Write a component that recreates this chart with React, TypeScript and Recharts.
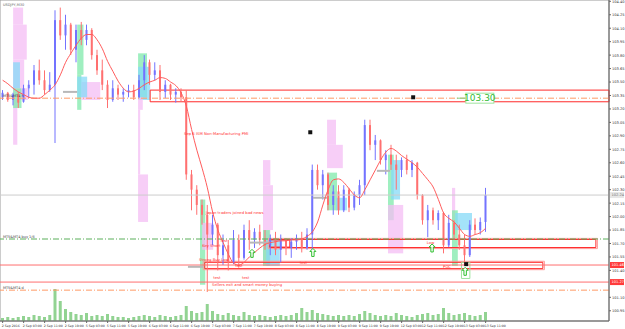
import React from 'react';
import { ComposedChart, Bar, Line, XAxis, YAxis, ReferenceLine, ReferenceArea, ReferenceDot } from 'recharts';

// USDJPY, 2-hour candles: [open, high, low, close]
const ohlcSep2: number[][] = [
  [103.33, 103.41, 103.30, 103.38], [103.38, 103.39, 103.28, 103.30], [103.30, 103.38, 103.24, 103.36],
  [103.36, 103.39, 103.21, 103.27], [103.28, 103.47, 103.27, 103.43], [103.43, 103.52, 103.32, 103.47],
  [103.47, 103.69, 103.36, 103.63], [103.63, 103.75, 103.47, 103.52], [103.52, 103.63, 103.36, 103.41],
  [103.41, 103.61, 103.39, 103.47], [103.47, 104.30, 102.82, 104.19], [104.19, 104.33, 103.97, 104.02],
  [104.02, 104.25, 103.86, 104.14], [104.14, 104.16, 103.80, 103.86], [103.86, 104.14, 103.72, 104.08],
];
const ohlcSep5to6: number[][] = [
  [104.08, 104.17, 103.91, 103.97], [103.97, 104.14, 103.91, 104.08], [104.08, 104.10, 103.75, 103.80],
  [103.80, 103.86, 103.58, 103.63], [103.63, 103.75, 103.41, 103.47], [103.47, 103.52, 103.21, 103.30],
  [103.30, 103.52, 103.28, 103.43], [103.43, 103.47, 103.30, 103.36], [103.36, 103.43, 103.28, 103.39],
  [103.39, 103.47, 103.33, 103.41], [103.41, 103.47, 103.30, 103.33], [103.33, 103.58, 103.32, 103.52],
  [103.52, 103.80, 103.41, 103.72], [103.72, 103.75, 103.47, 103.58], [103.58, 103.72, 103.52, 103.63],
  [103.63, 103.69, 103.30, 103.39], [103.39, 103.52, 103.32, 103.47], [103.47, 103.48, 103.30, 103.36],
  [103.36, 103.43, 103.27, 103.39], [103.39, 103.43, 103.28, 103.33], [103.33, 103.41, 102.41, 102.47],
  [102.47, 102.52, 102.07, 102.30], [102.30, 102.35, 102.02, 102.13], [102.13, 102.19, 101.91, 102.02],
];
const ohlcSep7to8: number[][] = [
  [102.02, 102.13, 101.16, 101.80], [101.80, 102.02, 101.68, 101.91], [101.91, 101.93, 101.40, 101.57],
  [101.57, 101.80, 101.46, 101.68], [101.68, 101.74, 101.40, 101.49], [101.49, 101.85, 101.47, 101.74],
  [101.74, 101.80, 101.43, 101.54], [101.54, 101.91, 101.52, 101.85], [101.85, 101.96, 101.63, 101.74],
  [101.74, 101.87, 101.65, 101.83], [101.83, 101.91, 101.68, 101.74], [101.74, 101.85, 101.63, 101.68],
  [101.68, 101.80, 101.57, 101.76], [101.76, 101.83, 101.57, 101.63], [101.63, 101.80, 101.49, 101.74],
  [101.74, 101.76, 101.57, 101.65], [101.65, 101.76, 101.54, 101.72], [101.72, 101.80, 101.63, 101.76],
  [101.76, 101.83, 101.60, 101.65], [101.65, 101.87, 101.63, 101.80], [101.80, 102.58, 101.60, 102.52],
  [102.52, 102.58, 102.30, 102.35], [102.35, 102.52, 102.19, 102.47], [102.47, 102.49, 102.07, 102.13],
];
const ohlcSep9to13: number[][] = [
  [102.13, 102.35, 102.02, 102.28], [102.28, 102.35, 102.02, 102.07], [102.07, 102.35, 102.05, 102.30],
  [102.30, 102.32, 102.05, 102.10], [102.10, 102.28, 102.07, 102.24], [102.24, 102.41, 102.13, 102.35],
  [102.35, 103.08, 102.24, 103.02], [103.02, 103.08, 102.74, 102.80], [102.80, 102.91, 102.63, 102.85],
  [102.85, 102.86, 102.58, 102.63], [102.63, 102.74, 102.47, 102.69], [102.69, 102.80, 102.52, 102.58],
  [102.58, 102.69, 102.30, 102.52], [102.52, 102.66, 102.44, 102.63], [102.63, 102.69, 102.47, 102.52],
  [102.52, 102.63, 102.44, 102.60], [102.60, 102.61, 102.19, 102.24], [102.24, 102.25, 101.91, 101.96],
  [101.96, 102.13, 101.77, 102.07], [102.07, 102.10, 101.91, 101.96], [101.96, 102.07, 101.85, 102.04],
  [102.04, 102.05, 101.59, 101.68], [101.68, 102.02, 101.66, 101.93], [101.93, 101.96, 101.74, 101.80],
  [101.80, 101.91, 101.63, 101.68], [101.68, 101.80, 101.46, 101.57], [101.57, 101.96, 101.55, 101.91],
  [101.91, 101.98, 101.80, 101.85], [101.85, 101.99, 101.80, 101.94], [101.94, 102.32, 101.83, 102.24],
];

// red moving average
const maValues = [
  103.52, 103.48, 103.43, 103.39, 103.36, 103.33, 103.32, 103.32, 103.36, 103.41, 103.47, 103.58, 103.72, 103.82, 103.91,
  103.99, 104.03, 104.03, 103.97, 103.87, 103.73, 103.62, 103.51, 103.43, 103.39, 103.40, 103.43, 103.47, 103.50, 103.52,
  103.55, 103.54, 103.50, 103.46, 103.38, 103.23, 102.97, 102.74, 102.54,
  102.32, 102.05, 101.85, 101.71, 101.58, 101.48, 101.46, 101.49, 101.55, 101.60, 101.65, 101.69, 101.71, 101.72, 101.73,
  101.73, 101.74, 101.74, 101.75, 101.78, 101.83, 101.94, 102.13, 102.30,
  102.41, 102.42, 102.38, 102.31, 102.24, 102.21, 102.30, 102.41, 102.52, 102.63, 102.72, 102.76, 102.73, 102.68, 102.64,
  102.60, 102.55, 102.48, 102.41, 102.33, 102.19, 102.04, 101.98, 101.94, 101.87, 101.80, 101.78, 101.80, 101.82, 101.87,
];

// tick volume
const tickVolume = [
  300, 400, 300, 400, 500, 400, 600, 500, 400, 600, 3200, 2000, 1200, 900, 700,
  600, 800, 500, 600, 500, 700, 500, 400, 400, 300, 400, 500, 600, 500, 400, 600, 500, 400, 500, 600, 1500, 1000, 800, 900,
  1700, 1000, 700, 600, 800, 600, 500, 900, 600, 500, 600, 500, 400, 500, 600, 500, 600, 800, 1300, 900, 1100, 800, 700, 600,
  500, 600, 500, 600, 500, 700, 1000, 800, 600, 500, 600, 500, 800, 600, 500, 400, 600, 700, 800, 600, 700, 1300, 800, 600,
  700, 800, 600, 500, 600, 900,
];

const timeLabels = [
  '2 Sep 2016', '2 Sep 03:00', '2 Sep 11:00', '2 Sep 19:00', '5 Sep 03:00', '5 Sep 11:00', '5 Sep 19:00', '6 Sep 03:00',
  '6 Sep 11:00', '6 Sep 19:00', '7 Sep 03:00', '7 Sep 11:00', '7 Sep 19:00', '8 Sep 03:00', '8 Sep 11:00', '8 Sep 19:00',
  '9 Sep 03:00', '9 Sep 11:00', '9 Sep 19:00', '12 Sep 03:00', '12 Sep 11:00', '12 Sep 19:00', '13 Sep 03:00', '13 Sep 11:00',
];
const timeTicks = timeLabels.map((_, k) => k * 4);

// 101.25 sits under the red level tag, as in the terminal
const priceTicks = [
  104.4, 104.25, 104.1, 103.95, 103.8, 103.65, 103.5, 103.35, 103.2, 103.05, 102.9, 102.75,
  102.6, 102.45, 102.3, 102.15, 102.0, 101.85, 101.7, 101.55, 101.4, 101.1, 100.95,
];

const bidPrice = 102.24;
const dashLevels = [
  { price: 103.32, color: '#ff9a66', tag: 'MT5&MT4 h' },
  { price: 101.75, color: '#5aaf5a', tag: 'MT5&MT4 buy 1/6' },
  { price: 101.18, color: '#ff9a66', tag: 'MT5&MT4 d' },
];
const redLevels = [101.46, 101.27];

// supply / demand boxes: [x1, x2, top, bottom]
const zones: number[][] = [
  [28.1, 115.5, 103.41, 103.28],
  [50.9, 113.0, 101.745, 101.655],
  [38.5, 102.9, 101.49, 101.42],
];
const smallBoxes: number[][] = [[50.9, 54.7, 101.74, 101.66]];

// volume profiles: [x1, x2, top, bottom, kind]
const profiles: [number, number, number, number, string][] = [
  [2.0, 3.9, 104.33, 104.14, 'p'], [2.0, 4.6, 104.14, 103.75, 'p'], [2.0, 4.1, 103.75, 103.43, 'p'],
  [2.0, 4.8, 103.43, 103.30, 'p'], [2.0, 2.8, 103.30, 102.80, 'p'], [2.0, 3.3, 103.72, 103.43, 'c'],
  [2.0, 3.6, 103.43, 103.21, 'g'],
  [14.2, 15.4, 104.14, 103.58, 'g'], [14.2, 15.0, 103.58, 103.19, 'g'], [15.0, 18.6, 103.50, 103.30, 'p'],
  [14.2, 16.1, 103.56, 103.33, 'c'],
  [25.8, 27.5, 103.82, 103.33, 'g'], [25.8, 28.1, 103.67, 103.30, 'c'], [25.8, 26.7, 103.33, 103.19, 'p'],
  [25.8, 26.2, 103.19, 102.47, 'p'], [25.8, 27.7, 102.47, 101.94, 'p'],
  [37.6, 38.6, 102.19, 101.24, 'g'], [38.0, 40.1, 101.93, 101.63, 'p'],
  [49.6, 51.0, 102.63, 102.35, 'p'], [49.6, 51.5, 102.35, 101.85, 'p'], [49.6, 51.0, 101.85, 101.47, 'p'],
  [49.6, 50.9, 101.85, 101.45, 'g'], [50.2, 52.8, 101.74, 101.45, 'c'],
  [61.8, 63.5, 103.08, 102.80, 'p'], [61.8, 64.8, 102.80, 102.54, 'p'], [61.8, 63.7, 102.49, 102.07, 'g'],
  [63.5, 65.6, 102.21, 102.07, 'c'],
  [73.4, 74.5, 102.69, 101.96, 'g'], [74.0, 75.7, 102.63, 102.19, 'c'], [73.4, 76.3, 102.13, 101.59, 'p'],
  [85.6, 86.2, 102.32, 101.96, 'p'], [85.6, 86.7, 102.07, 101.45, 'g'], [86.2, 89.4, 102.04, 101.85, 'c'],
];
const profileColors: Record<string, string> = { p: '#f4bdf4', g: '#7fe9ab', c: '#86d9f7' };

// point of control segments: [x1, x2, price]
const pocLines: number[][] = [
  [11.5, 14.2, 103.39], [35.3, 38.2, 101.44], [47.1, 50.9, 101.71], [59.1, 61.8, 102.21], [71.3, 73.8, 102.51],
];

const notes = [
  { i: 34.55, p: 102.92, text: 'Sep 6 ISM Non-Manufacturing PMI' },
  { i: 38.7, p: 102.05, text: 'Japan traders joined bad news' },
  { i: 38.0, p: 101.68, text: 'Key Short' },
  { i: 37.4, p: 101.52, text: 'Strong Buy Low' },
  { i: 41.4, p: 101.73, text: 'Test' },
  { i: 44.3, p: 101.45, text: 'test' },
  { i: 45.6, p: 101.32, text: 'test' },
  { i: 40.1, p: 101.32, text: 'test' },
  { i: 56.6, p: 101.49, text: 'test' },
  { i: 39.9, p: 101.24, text: 'Sellers exit and smart money buying' },
  { i: 80.8, p: 101.71, text: 'Low' },
  { i: 83.9, p: 101.44, text: 'POC' },
];
const upArrows = [
  { i: 47.5, p: 101.59 }, { i: 59.1, p: 101.60 }, { i: 81.8, p: 101.65 }, { i: 88.1, p: 101.39 },
];
const marks = [
  { i: 58.6, p: 102.94 }, { i: 78.2, p: 103.33 }, { i: 88.3, p: 101.47 },
];

const candles = [...ohlcSep2, ...ohlcSep5to6, ...ohlcSep7to8, ...ohlcSep9to13].map((q, i) => ({
  i, o: q[0], h: q[1], l: q[2], c: q[3], ma: maValues[i], vol: tickVolume[i],
}));

const font = 'DejaVu Sans, sans-serif';
const xDomain = [-0.5, 115.5];
const yDomain = [100.836, 104.4145];

const Candle = (props: any) => {
  const { x, y, width, height, payload } = props;
  if (!payload) return null;
  const top = Math.min(y, y + height);
  const span = Math.abs(height);
  const py = (v: number) => top + ((payload.h - v) / (payload.h - payload.l)) * span;
  const cx = x + width / 2;
  const color = payload.c >= payload.o ? '#7373ff' : '#ff7070';
  const b1 = py(Math.max(payload.o, payload.c));
  const b2 = py(Math.min(payload.o, payload.c));
  return (
    <g>
      <line x1={cx} x2={cx} y1={top} y2={top + span} stroke={color} strokeWidth={1} />
      <rect x={cx - 1} y={b1} width={2} height={Math.max(1, b2 - b1)} fill={color} />
    </g>
  );
};

const TimeTick = ({ x, y, payload }: any) => (
  <g>
    <line x1={x} x2={x} y1={y} y2={y + 2} stroke="#666" />
    <text x={x - 1} y={y + 6} fontSize={3.2} fill="#333" fontFamily={font} textAnchor="start">
      {timeLabels[Math.round(payload.value / 4)]}
    </text>
  </g>
);

const PriceTick = ({ x, y, payload }: any) => (
  <g>
    <line x1={x} x2={x + 2} y1={y} y2={y} stroke="#666" />
    <text x={x + 3} y={y + 1.4} fontSize={3.6} fill="#333" fontFamily={font}>
      {payload.value.toFixed(2)}
    </text>
  </g>
);

const axisTag = (text: string, bg: string, fg: string) => ({ viewBox }: any) => (
  <g>
    <rect x={viewBox.x + viewBox.width + 1} y={viewBox.y - 3} width={14} height={6} fill={bg} />
    <text x={viewBox.x + viewBox.width + 2.5} y={viewBox.y + 1.4} fontSize={3.6} fill={fg} fontFamily={font}>
      {text}
    </text>
  </g>
);

const noteShape = (text: string, color: string, size = 3.8) => (p: any) => (
  <text x={p.cx} y={p.cy + 1.4} fontSize={size} fill={color} fontFamily={font}>{text}</text>
);

const arrowShape = (p: any) => (
  <polygon
    points={`${p.cx},${p.cy - 4} ${p.cx + 3},${p.cy - 1} ${p.cx + 1.2},${p.cy - 1} ${p.cx + 1.2},${p.cy + 4} ${p.cx - 1.2},${p.cy + 4} ${p.cx - 1.2},${p.cy - 1} ${p.cx - 3},${p.cy - 1}`}
    fill="#ffffff" stroke="#2fbf2f" strokeWidth={1}
  />
);

const markShape = (p: any) => <rect x={p.cx - 2} y={p.cy - 2} width={4} height={4} fill="#111" />;

const priceBoxShape = (p: any) => (
  <g>
    <line x1={p.cx - 23} x2={p.cx - 14} y1={p.cy} y2={p.cy} stroke="#80d080" />
    <rect x={p.cx - 14} y={p.cy - 5} width={28} height={10} fill="#ffffff" stroke="#9fe39f" />
    <text x={p.cx} y={p.cy + 3.3} fontSize={9} fill="#33bb33" textAnchor="middle" fontFamily={font}>103.30</text>
  </g>
);

export default function App() {
  return (
    <div style={{ position: 'absolute', left: 0, top: 0, width: 625, height: 329, background: '#ffffff' }}>
      <ComposedChart width={625} height={329} data={candles} margin={{ top: 0, right: 0, bottom: 0, left: 0 }}>
        <XAxis
          type="number" dataKey="i" domain={xDomain} ticks={timeTicks} interval={0}
          height={8} tickSize={0} tickMargin={0} tickLine={false}
          axisLine={{ stroke: '#666' }} tick={<TimeTick />} allowDataOverflow
        />
        <XAxis xAxisId="v" type="number" dataKey="i" domain={xDomain} hide allowDataOverflow />
        <YAxis
          orientation="right" width={16} domain={yDomain} ticks={priceTicks} interval={0}
          tickSize={0} tickMargin={0} tickLine={false} axisLine={{ stroke: '#666' }}
          tick={<PriceTick />} allowDataOverflow
        />
        <YAxis yAxisId="vol" domain={[0, 32100]} hide />

        <ReferenceArea x1={xDomain[0]} x2={xDomain[1]} y1={yDomain[0]} y2={yDomain[1]} fill="none" stroke="#999" />

        {profiles.map((r, k) => (
          <ReferenceArea key={'pf' + k} x1={r[0]} x2={r[1]} y1={r[3]} y2={r[2]} fill={profileColors[r[4]]} fillOpacity={0.75} stroke="none" />
        ))}

        <Bar xAxisId="v" yAxisId="vol" dataKey="vol" barSize={3} fill="#92d392" isAnimationActive={false} />

        <ReferenceLine y={bidPrice} stroke="#cccccc" label={axisTag(bidPrice.toFixed(2), '#e6e6e6', '#777')} />
        {dashLevels.map((d) => (
          <ReferenceLine key={d.tag} y={d.price} stroke={d.color} strokeDasharray="6 2 1 2" />
        ))}
        {redLevels.map((p) => (
          <ReferenceLine key={p} y={p} stroke="#ff6f6f" label={axisTag(p.toFixed(2), '#ff3b3b', '#ffffff')} />
        ))}

        {zones.map((z, k) => (
          <ReferenceArea key={'zo' + k} x1={z[0] - 0.3} x2={z[1] + 0.3} y1={z[3] - 0.012} y2={z[2] + 0.012} fill="none" stroke="#ff9c9c" />
        ))}
        {zones.map((z, k) => (
          <ReferenceArea key={'zi' + k} x1={z[0]} x2={z[1]} y1={z[3]} y2={z[2]} fill="none" stroke="#ff2a2a" />
        ))}
        {smallBoxes.map((z, k) => (
          <ReferenceArea key={'sb' + k} x1={z[0]} x2={z[1]} y1={z[3]} y2={z[2]} fill="none" stroke="#ff2a2a" />
        ))}
        <ReferenceArea x1={87.4} x2={89.0} y1={101.31} y2={101.49} fill="none" stroke="#9fe39f" />

        {pocLines.map((s, k) => (
          <ReferenceLine key={'poc' + k} segment={[{ x: s[0], y: s[2] }, { x: s[1], y: s[2] }]} stroke="#b8b8b8" strokeWidth={2} />
        ))}

        <Bar dataKey={(d: any) => [d.l, d.h]} barSize={5} shape={<Candle />} isAnimationActive={false} />
        <Line type="monotone" dataKey="ma" stroke="#ff5c5c" strokeWidth={1} dot={false} activeDot={false} isAnimationActive={false} />

        {dashLevels.map((d) => (
          <ReferenceDot key={'t' + d.tag} x={0.05} y={d.price + 0.03} r={1} shape={noteShape(d.tag, '#444', 3.5)} />
        ))}
        <ReferenceDot x={0.05} y={104.36} r={1} shape={noteShape('USDJPY,M30', '#666', 3.5)} />
        {notes.map((n, k) => (
          <ReferenceDot key={'n' + k} x={n.i} y={n.p} r={1} shape={noteShape(n.text, '#ff3030')} />
        ))}
        {upArrows.map((a, k) => (
          <ReferenceDot key={'a' + k} x={a.i} y={a.p} r={1} shape={arrowShape} />
        ))}
        {marks.map((m, k) => (
          <ReferenceDot key={'m' + k} x={m.i} y={m.p} r={1} shape={markShape} />
        ))}
        <ReferenceDot x={90.9} y={103.32} r={1} shape={priceBoxShape} />
      </ComposedChart>
    </div>
  );
}
